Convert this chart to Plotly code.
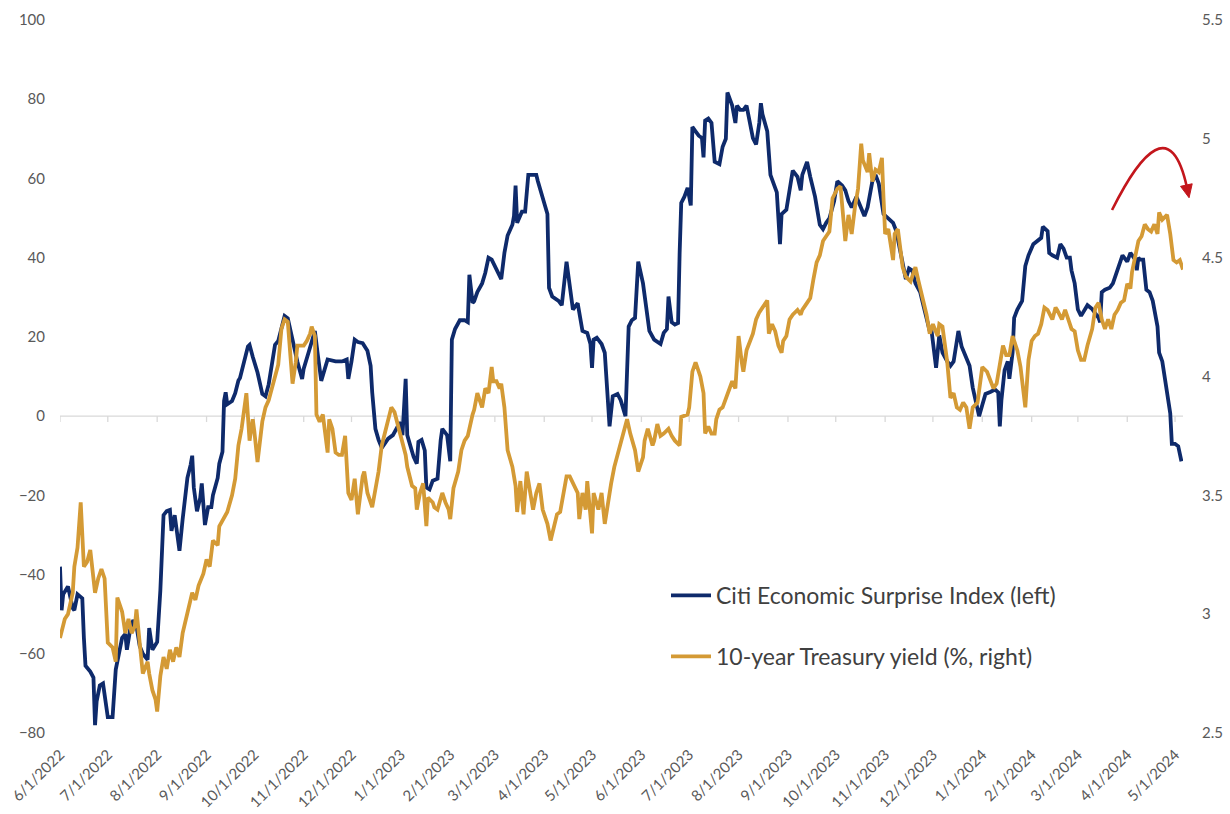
import pandas as pd
import plotly.graph_objects as go

START = pd.Timestamp("2022-06-01")
END = pd.Timestamp("2024-05-06")

# Citi Economic Surprise Index (left axis): days since 2022-06-01 and index level
csi_day = [0, 1, 2, 5, 8, 9, 11, 14, 15, 16, 19, 21, 22, 23, 25, 27, 30, 33, 35, 36,
           39, 41, 42, 44, 46, 48, 50, 52, 55, 56, 58, 61, 63, 65, 67, 69, 70, 72, 75, 77,
           80, 82, 83, 84, 86, 88, 89, 91, 93, 95, 96, 99, 100, 102, 103, 104, 105, 108, 110, 112,
           113, 118, 119, 121, 124, 127, 129, 131, 133, 135, 137, 139, 141, 143, 146, 149, 152, 153, 156, 159,
           160, 162, 164, 166, 168, 173, 177, 180, 181, 183, 185, 187, 190, 193, 195, 196, 198, 200, 202, 206,
           209, 212, 213, 215, 217, 218, 220, 222, 224, 225, 227, 229, 230, 232, 234, 237, 239, 240, 243, 245,
           246, 248, 251, 254, 256, 257, 259, 260, 262, 265, 267, 269, 271, 273, 275, 277, 279, 281, 284, 285,
           286, 287, 290, 292, 294, 296, 299, 300, 303, 306, 307, 309, 313, 315, 318, 320, 322, 325, 326, 328,
           331, 333, 334, 335, 337, 340, 342, 343, 345, 347, 350, 352, 355, 357, 359, 361, 363, 366, 368, 370,
           373, 377, 379, 381, 382, 384, 386, 388, 389, 390, 392, 394, 396, 397, 399, 401, 403, 404, 405, 407,
           409, 411, 414, 416, 418, 419, 421, 422, 424, 425, 427, 429, 431, 433, 435, 437, 439, 440, 441, 444,
           446, 448, 450, 452, 453, 456, 458, 460, 463, 465, 466, 469, 471, 474, 477, 479, 481, 483, 486, 488,
           491, 493, 495, 497, 500, 503, 505, 507, 510, 512, 514, 517, 520, 523, 525, 529, 531, 533, 535, 537,
           540, 542, 544, 546, 547, 549, 550, 552, 554, 557, 559, 561, 563, 564, 566, 569, 571, 573, 576, 577,
           579, 581, 584, 587, 589, 590, 591, 593, 595, 596, 598, 599, 601, 604, 606, 608, 611, 614, 616, 617,
           620, 621, 623, 626, 628, 630, 632, 634, 635, 637, 639, 641, 643, 645, 648, 650, 652, 653, 654, 656,
           659, 661, 663, 665, 667, 670, 672, 675, 676, 677, 678, 680, 682, 684, 686, 689, 690, 692, 695, 697,
           698, 700, 702, 704]
csi_value = [-38, -49, -45, -43, -48.5, -49, -45, -46, -56, -63, -64.5, -66, -78, -72, -68, -67.5, -76, -76, -64, -62,
             -56, -55, -59, -54, -51.5, -53, -58, -60, -61.5, -53.5, -59, -57, -44, -25, -24, -23.7, -29, -25, -34, -26,
             -15.6, -12.3, -10, -18, -24, -20.7, -17, -27.5, -23, -23, -20, -15.6, -12, -9, 3.8, 6, 3, 3.8, 5.8, 9,
             9.6, 17.6, 18, 15, 11, 5.6, 5, 8, 13.8, 18, 19, 22.6, 25.3, 24.7, 19, 13.8, 9.4, 12, 16, 20.4,
             21.5, 15, 8.9, 11.6, 14.3, 13.8, 13.8, 14.3, 9.4, 13.8, 19.3, 18.7, 18.4, 16.5, 12.7, 6, -3.2, -6, -8, -5.7,
             -4.8, -2.6, -1.5, -4.8, 9.4, -4.8, -8, -10.3, -12, -6.5, -6, -8.7, -18, -18.5, -16.3, -15.8, -6, -3.2, -4.8, -11.4,
             19.3, 22, 24.2, 24.2, 23.7, 35.7, 28.6, 29, 31.3, 33.5, 36.2, 40, 39.5, 37.9, 36.2, 34.6, 41.2, 45.6, 48.3, 50.5,
             58.2, 48.8, 51.6, 51.6, 60.9, 60.9, 60.9, 59.3, 55.4, 51, 32.4, 30.2, 29.1, 28, 39, 33.5, 26.9, 28.5, 25.8, 21.5,
             21, 18.2, 12.2, 19.3, 19.8, 18.2, 16, 10.5, -2.6, 5, 5.6, 4, 0, 22.6, 24.2, 24.8, 39, 33.5, 26.9, 21.5,
             19.3, 18.2, 21, 22, 30.2, 23.7, 23.1, 23.5, 41.2, 53.8, 55.4, 57.6, 53.2, 73, 71.9, 70.8, 70.2, 65.3, 74.6, 75.1,
             74, 64.2, 63.6, 68, 70, 81.7, 79.5, 78.4, 74, 78.4, 77.3, 77.3, 78.4, 74, 70.2, 68.6, 74, 79, 76.2, 71.9,
             60.9, 58.7, 56.5, 43.4, 51, 52.1, 57.6, 62, 60.4, 57, 60.9, 64.2, 60.4, 55.4, 48.3, 47.2, 48.8, 49.9, 54.3, 59.3,
             58.2, 57, 54.3, 52.7, 55.4, 52.7, 50.5, 52.7, 59.3, 60.9, 58.7, 51, 49.9, 48.8, 46.7, 37.9, 34.6, 37.3, 36.8, 33.5,
             31.3, 28, 24.8, 21.5, 22, 14.9, 12.2, 20.4, 16, 13.8, 12.7, 13.8, 19.3, 21.5, 17.6, 14.9, 12.7, 7.2, 1.6, 0,
             2.8, 5.6, 6.1, 6.7, 6, -2.6, 4, 11.6, 13.8, 9.4, 16, 24.8, 26.9, 29.1, 37.9, 40.6, 43.4, 44.5, 45, 47.8,
             46.7, 41.2, 40.6, 40, 43.4, 42.3, 40, 40, 36.8, 33.5, 26.9, 25.3, 26.9, 28, 27, 25.8, 24.8, 23.7, 31.3, 31.9,
             32.4, 33.5, 35.7, 37.9, 40.6, 39, 41.2, 39.5, 36.8, 40, 39.5, 39.5, 31.9, 31.3, 29.1, 22.6, 16, 13.8, 5, 0.7,
             -7, -7, -7.6, -11.4]

# 10-year Treasury yield, % (right axis): days since 2022-06-01 and yield
yld_day = [0, 3, 5, 8, 9, 11, 13, 14, 15, 17, 19, 22, 24, 26, 28, 30, 33, 35, 36, 39,
           41, 43, 45, 47, 48, 50, 52, 55, 56, 58, 60, 61, 62, 63, 65, 67, 69, 71, 73, 75,
           77, 80, 83, 85, 87, 90, 92, 94, 96, 99, 100, 105, 108, 110, 112, 114, 116, 117, 119, 121,
           122, 124, 127, 129, 131, 133, 135, 137, 139, 141, 143, 144, 146, 148, 149, 153, 155, 157, 158, 160,
           161, 163, 165, 168, 169, 171, 173, 175, 177, 179, 181, 183, 185, 187, 190, 191, 193, 196, 198, 200,
           202, 204, 206, 208, 210, 212, 215, 217, 218, 221, 223, 224, 226, 228, 230, 231, 234, 235, 237, 240,
           242, 244, 245, 247, 250, 252, 254, 256, 259, 260, 262, 265, 267, 269, 271, 272, 274, 276, 277, 279,
           281, 284, 286, 287, 289, 291, 293, 295, 297, 299, 301, 303, 306, 308, 309, 312, 314, 316, 318, 320,
           322, 325, 326, 328, 330, 331, 334, 335, 338, 340, 342, 344, 346, 348, 350, 353, 356, 358, 361, 363,
           366, 367, 369, 372, 373, 375, 377, 379, 382, 384, 386, 389, 390, 394, 395, 397, 399, 402, 404, 405,
           407, 409, 411, 412, 414, 416, 419, 421, 422, 424, 426, 428, 429, 431, 433, 435, 437, 439, 441, 444,
           445, 447, 449, 451, 453, 454, 456, 458, 460, 463, 465, 466, 469, 471, 473, 475, 477, 479, 481, 483,
           485, 488, 490, 491, 493, 495, 497, 499, 501, 503, 504, 507, 508, 510, 512, 514, 516, 517, 518, 520,
           523, 524, 526, 529, 531, 534, 537, 539, 542, 544, 546, 548, 551, 552, 554, 557, 559, 561, 563, 565,
           567, 569, 571, 573, 576, 577, 579, 582, 584, 586, 588, 590, 592, 594, 596, 598, 601, 603, 606, 608,
           610, 612, 614, 616, 618, 620, 623, 625, 626, 629, 631, 633, 635, 637, 639, 641, 643, 645, 648, 650,
           652, 654, 656, 658, 660, 662, 664, 666, 668, 670, 672, 673, 675, 677, 679, 681, 683, 685, 687, 689,
           690, 692, 695, 697, 699, 701, 703, 705]
yld_value = [2.90, 2.98, 3.00, 3.09, 3.20, 3.28, 3.47, 3.33, 3.20, 3.22, 3.27, 3.09, 3.15, 3.19, 3.15, 2.88, 2.86, 2.80, 3.07, 3.01,
             2.92, 2.98, 2.92, 2.95, 3.02, 2.88, 2.75, 2.80, 2.75, 2.68, 2.64, 2.59, 2.68, 2.74, 2.82, 2.77, 2.85, 2.80, 2.86, 2.82,
             2.92, 3.01, 3.09, 3.06, 3.12, 3.17, 3.23, 3.20, 3.31, 3.29, 3.37, 3.43, 3.50, 3.57, 3.71, 3.78, 3.87, 3.93, 3.73, 3.82,
             3.77, 3.64, 3.81, 3.87, 3.90, 3.95, 3.99, 4.05, 4.20, 4.24, 4.23, 4.15, 3.97, 4.06, 4.13, 4.13, 4.15, 4.18, 4.21, 4.17,
             3.84, 3.81, 3.84, 3.68, 3.82, 3.78, 3.68, 3.67, 3.67, 3.75, 3.51, 3.48, 3.57, 3.42, 3.58, 3.60, 3.51, 3.45, 3.53, 3.60,
             3.71, 3.76, 3.82, 3.87, 3.85, 3.80, 3.73, 3.67, 3.62, 3.54, 3.53, 3.44, 3.51, 3.55, 3.37, 3.49, 3.47, 3.45, 3.44, 3.51,
             3.47, 3.44, 3.40, 3.53, 3.60, 3.69, 3.73, 3.75, 3.84, 3.86, 3.93, 3.87, 3.95, 3.93, 4.04, 3.98, 3.98, 3.95, 3.97, 3.87,
             3.69, 3.62, 3.54, 3.43, 3.56, 3.42, 3.60, 3.51, 3.44, 3.51, 3.55, 3.44, 3.38, 3.31, 3.34, 3.42, 3.43, 3.51, 3.58, 3.58,
             3.55, 3.51, 3.40, 3.51, 3.44, 3.56, 3.34, 3.51, 3.44, 3.51, 3.38, 3.47, 3.55, 3.62, 3.67, 3.73, 3.82, 3.76, 3.69, 3.60,
             3.66, 3.73, 3.78, 3.71, 3.73, 3.80, 3.75, 3.76, 3.78, 3.75, 3.73, 3.71, 3.83, 3.84, 3.87, 4.02, 4.06, 4.00, 3.93, 3.76,
             3.79, 3.76, 3.76, 3.82, 3.86, 3.87, 3.93, 3.97, 3.98, 3.95, 4.17, 4.06, 4.02, 4.11, 4.15, 4.18, 4.24, 4.27, 4.29, 4.32,
             4.18, 4.22, 4.19, 4.13, 4.10, 4.15, 4.17, 4.24, 4.26, 4.28, 4.26, 4.28, 4.31, 4.33, 4.41, 4.48, 4.51, 4.57, 4.59, 4.61,
             4.75, 4.79, 4.80, 4.71, 4.57, 4.68, 4.60, 4.71, 4.79, 4.98, 4.91, 4.86, 4.94, 4.82, 4.87, 4.86, 4.92, 4.75, 4.60, 4.62,
             4.49, 4.60, 4.62, 4.46, 4.42, 4.40, 4.46, 4.40, 4.31, 4.26, 4.18, 4.22, 4.17, 4.22, 4.21, 4.06, 3.91, 3.93, 3.87, 3.86,
             3.89, 3.87, 3.78, 3.87, 3.89, 3.95, 4.04, 4.02, 3.98, 3.95, 3.97, 4.06, 4.13, 4.09, 4.09, 4.17, 4.11, 4.04, 3.87, 4.07,
             4.15, 4.17, 4.18, 4.22, 4.29, 4.28, 4.24, 4.29, 4.28, 4.24, 4.28, 4.24, 4.20, 4.19, 4.11, 4.07, 4.07, 4.13, 4.20, 4.29,
             4.31, 4.24, 4.20, 4.24, 4.20, 4.26, 4.28, 4.31, 4.32, 4.39, 4.37, 4.44, 4.51, 4.57, 4.59, 4.64, 4.62, 4.61, 4.64, 4.60,
             4.69, 4.66, 4.68, 4.60, 4.49, 4.48, 4.49, 4.45]

NAVY = "#0E2A6B"
GOLD = "#D49A35"
AXIS_GREY = "#D9D9D9"
LABEL_GREY = "#595959"
FONT = "Lato, 'Open Sans', sans-serif"

csi_dates = START + pd.to_timedelta(csi_day, unit="D")
yld_dates = START + pd.to_timedelta(yld_day, unit="D")
month_ticks = pd.date_range(START, "2024-05-01", freq="MS")
month_text = [f"{d.month}/{d.day}/{d.year}" for d in month_ticks]

fig = go.Figure()

# horizontal category line at zero on the left scale, with small month tick marks
tick_x, tick_y = [], []
for d in month_ticks:
    tick_x += [d, d, None]
    tick_y += [0, -1.5, None]
fig.add_trace(go.Scatter(x=[START, END] + [None] + tick_x, y=[0, 0] + [None] + tick_y,
                         mode="lines", line=dict(color=AXIS_GREY, width=1.3),
                         hoverinfo="skip", showlegend=False))

fig.add_trace(go.Scatter(x=csi_dates, y=csi_value, mode="lines",
                         name="Citi Economic Surprise Index (left)", legendgroup="csi",
                         line=dict(color=NAVY, width=3.8)))
fig.add_trace(go.Scatter(x=yld_dates, y=yld_value, mode="lines", yaxis="y2",
                         name="10-year Treasury yield (%, right)", legendgroup="yld",
                         line=dict(color=GOLD, width=3.8)))

# plot-area box in pixels, used to place the hand-drawn arrow
L, R, T, B = 60, 1183, 20, 733
W, H = 1230, 814


def paper(px, py):
    return (px - L) / (R - L), (B - py) / (B - T)


# curved red arrow: cubic curve plus a filled head along the end tangent
p0, c1, c2, p3 = (1112, 210), (1142, 150), (1172, 118), (1187, 188)
curve = "M {:.4f},{:.4f} C {:.4f},{:.4f} {:.4f},{:.4f} {:.4f},{:.4f}".format(
    *paper(*p0), *paper(*c1), *paper(*c2), *paper(*p3))
fig.add_shape(type="path", path=curve, xref="paper", yref="paper",
              line=dict(color="#C3161C", width=2.6))
dx, dy = p3[0] - c2[0], p3[1] - c2[1]
n = (dx ** 2 + dy ** 2) ** 0.5
ux, uy = dx / n, dy / n
tip = (p3[0] + 10 * ux, p3[1] + 10 * uy)
base = (p3[0] - 3 * ux, p3[1] - 3 * uy)
b1 = (base[0] - 6 * uy, base[1] + 6 * ux)
b2 = (base[0] + 6 * uy, base[1] - 6 * ux)
head = "M {:.4f},{:.4f} L {:.4f},{:.4f} L {:.4f},{:.4f} Z".format(
    *paper(*tip), *paper(*b1), *paper(*b2))
fig.add_shape(type="path", path=head, xref="paper", yref="paper",
              fillcolor="#C3161C", line=dict(color="#C3161C", width=1))

fig.update_layout(
    width=W, height=H,
    margin=dict(l=L, r=W - R, t=T, b=H - B, autoexpand=False),
    paper_bgcolor="white", plot_bgcolor="white",
    font=dict(family=FONT, color=LABEL_GREY, size=15),
    xaxis=dict(type="date", range=[START, END], tickvals=month_ticks, ticktext=month_text,
               tickangle=-45, showgrid=False, zeroline=False, showline=False, ticks="",
               tickfont=dict(size=15, color=LABEL_GREY), ticklabelstandoff=9,
               automargin=False),
    yaxis=dict(range=[-80, 100], dtick=20, showgrid=False, zeroline=False, showline=False,
               ticks="", tickfont=dict(size=15, color=LABEL_GREY), ticklabelstandoff=14,
               automargin=False),
    yaxis2=dict(range=[2.5, 5.5], dtick=0.5, overlaying="y", side="right", showgrid=False,
                zeroline=False, showline=False, ticks="",
                tickfont=dict(size=15, color=LABEL_GREY), ticklabelstandoff=18,
                automargin=False),
    legend=dict(x=paper(666, 0)[0], y=paper(0, 574)[1], xanchor="left", yanchor="top",
                bgcolor="rgba(0,0,0,0)", font=dict(size=23, color="#404040"),
                tracegroupgap=28, traceorder="grouped", itemwidth=40),
    showlegend=True,
)

fig.write_html("out.html")
